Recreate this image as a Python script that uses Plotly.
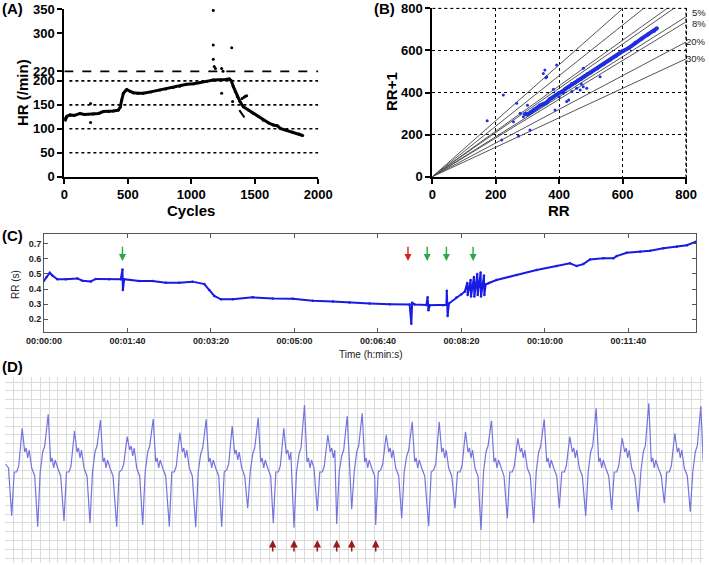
import plotly.graph_objects as go

W, H = 709, 565
FONT = "Liberation Sans"

# ---------------- Panel A data ----------------
cycles = [0, 8, 20, 45, 80, 123, 160, 228, 270, 307, 350, 386, 425, 440, 452, 465, 480, 491, 520, 543,
          580, 622, 680, 753, 800, 858, 910, 963, 1020, 1068, 1120, 1173, 1230, 1270, 1299, 1315, 1331,
          1346, 1362, 1383, 1409, 1450, 1488, 1530, 1567, 1610, 1646, 1680, 1700, 1750, 1800, 1850, 1877]
hr = [122, 118, 126, 129, 128, 132, 130, 131, 132, 136, 136, 137, 139, 145, 160, 174, 179, 182, 178, 175,
      174, 174, 177, 181, 183, 186, 189, 193, 194, 196, 199, 202, 202, 203, 204, 200, 188,
      178, 167, 157, 146, 139, 132, 125, 118, 112, 108, 106, 101, 97, 93, 89, 86]
out_cycles = [207, 207, 1173, 1173, 1173, 1190, 1239, 1239, 1318, 1325, 1180, 1250, 1400, 1415, 1425, 1436]
out_hr = [153, 113, 347, 275, 245, 226, 226, 174, 269, 157, 230, 220, 163, 166, 168, 169]
branch_cycles = [1378, 1395, 1410, 1425, 1436]
branch_hr = [139, 133, 127, 121, 117]
hr_dotted_levels = [50, 100, 150, 200]
hr_max_level = 220
hr_ticks = [0, 50, 100, 150, 200, 220, 300, 350]
cycle_ticks = [0, 500, 1000, 1500, 2000]

# ---------------- Panel B data ----------------
rr_band = [292, 300, 310, 320, 330, 340, 350, 360, 370, 380, 390, 400, 410, 420, 430, 440, 450, 460, 470,
           480, 490, 500, 520, 540, 560, 580, 600, 620, 640, 660, 680, 700, 708]
rr1_band = [298, 296, 306, 318, 325, 338, 345, 352, 368, 376, 388, 398, 405, 418, 428, 440, 446, 458, 466,
            476, 488, 495, 515, 535, 556, 575, 596, 612, 636, 656, 676, 694, 705]
rr_out = [173, 224, 266, 256, 272, 219, 308, 355, 361, 392, 382, 387, 424, 430, 476, 466, 487, 529, 476,
          287, 277, 413, 503, 350, 358, 400, 300, 440, 455, 470]
rr1_out = [266, 388, 349, 261, 193, 174, 222, 507, 475, 531, 415, 317, 357, 364, 515, 412, 420, 475, 428,
           285, 301, 396, 499, 490, 470, 380, 340, 405, 420, 440]
ref_slopes = [0.70, 0.80, 0.92, 0.95, 1.05, 1.08, 1.20, 1.33]
ref_label_text = ["5%", "8%", "20%", "30%"]
ref_label_rr1 = [780, 728, 641, 562]
rr_ticks = [0, 200, 400, 600, 800]
rr_max = 800

# ---------------- Panel C data ----------------
rr_time = [0, 3, 7, 10, 16, 26, 40, 46, 56, 62, 78, 92, 94, 94.5, 96, 114, 130, 146, 162, 178, 192, 198,
           204, 212, 226, 250, 274, 298, 322, 346, 366, 390, 414, 438, 440, 441, 444, 458, 459.5, 460.5,
           462, 478, 482, 482.5, 483.5, 485, 494, 500, 504, 507, 507.5, 509, 511, 511.5, 513, 515, 515.5,
           517, 519, 519.5, 521, 523, 523.5, 525, 527, 527.5, 529, 533, 542, 566, 590, 614, 630, 638, 646,
           654, 670, 682, 686, 698, 714, 726, 742, 758, 770, 781]
rr_sec = [0.455, 0.48, 0.508, 0.49, 0.464, 0.464, 0.47, 0.455, 0.45, 0.467, 0.464, 0.465, 0.53, 0.393,
          0.465, 0.453, 0.453, 0.442, 0.442, 0.449, 0.433, 0.394, 0.354, 0.332, 0.332, 0.345, 0.338, 0.336,
          0.323, 0.318, 0.311, 0.305, 0.300, 0.298, 0.17, 0.31, 0.298, 0.294, 0.345, 0.26, 0.293, 0.293,
          0.296, 0.389, 0.221, 0.305, 0.344, 0.365, 0.382, 0.44, 0.36, 0.40, 0.46, 0.35, 0.405, 0.48, 0.35,
          0.41, 0.50, 0.36, 0.415, 0.51, 0.35, 0.42, 0.49, 0.36, 0.43, 0.44, 0.46, 0.493, 0.526, 0.552,
          0.570, 0.552, 0.565, 0.596, 0.603, 0.603, 0.618, 0.64, 0.647, 0.654, 0.67, 0.68, 0.69, 0.713]
time_ticks = [0, 100, 200, 300, 400, 500, 600, 700]
time_labels = ["00:00:00", "00:01:40", "00:03:20", "00:05:00", "00:06:40", "00:08:20", "00:10:00", "00:11:40"]
rr_s_ticks = [0.2, 0.3, 0.4, 0.5, 0.6, 0.7]
green_arrow_t = [94, 459, 482, 514]
red_arrow_t = [436]

# ---------------- Panel D data (ECG, grid units) ----------------
trough_t = [6.7, 32.7, 59, 85, 111.7, 137.7, 164.3, 190.7, 216.7, 242.7, 268.3, 289, 312.3, 331.7, 346.7,
            370.7, 396.7, 423.7, 450, 476, 502.3, 528.7, 554.3, 580.7, 606.7, 633.3, 659.3, 685.3]
trough_amp = [-45.7, -56.7, -51, -53.3, -56.7, -55, -56.7, -57.3, -56.7, -38.3, -53.3, -57.7, -41, -54,
              -39.3, -55, -48.3, -56, -38.3, -60, -48.3, -53.3, -38.3, -46, -40, -41.7, -33.3, -41.7]
peak_amp = [41.7, 55.7, 39, 50, 33.3, 51, 37.3, 50.7, 44, 52.3, 41.7, 65, 35, 54, 56.7, 35, 48.3, 48.3,
            38.3, 49.3, 31.7, 50.7, 33.3, 61.7, 31.7, 66.7, 36.7, 64]
shoulder_amp = [4, 24, 4, 24, 6, 24, 4, 22, 6, 22, 4, 22, 4, 20, 24, 6, 20, 6, 4, 24, 4, 24, 4, 24, 4, 24, 4, 24]
notch_amp = [18, 8, 18, 8, 20, 8, 18, 8, 16, 8, 16, 8, 18, 8, 8, 18, 8, 18, 18, 8, 18, 8, 18, 8, 18, 8, 18, 8]
ecg_start_t = [0.5, 3.5]
ecg_start_amp = [6, 2]
arrow_beats_t = [267.7, 289, 312.3, 331.7, 346.7, 370.7]

# build ECG polyline from beat landmarks
ecg_t = list(ecg_start_t)
ecg_v = list(ecg_start_amp)
for i, tx in enumerate(trough_t):
    sh, nt, pk = shoulder_amp[i], notch_amp[i], peak_amp[i]
    landmarks = [(0, trough_amp[i]), (2.5, -2), (5, sh - 6), (7, sh), (10.5, pk), (13, nt),
                 (14.5, nt + 4), (16, nt - 6), (17.5, nt + 2), (20, 2), (23, -6)]
    nxt = trough_t[i + 1] if i + 1 < len(trough_t) else 1e9
    for dx, v in landmarks:
        if tx + dx < nxt - 0.8:
            ecg_t.append(tx + dx)
            ecg_v.append(v)

fig = go.Figure()

# ----- Panel A traces -----
for lv in hr_dotted_levels:
    fig.add_trace(go.Scatter(x=[40, 2000], y=[lv, lv], mode="lines", xaxis="x", yaxis="y",
                             line=dict(color="black", width=1.6, dash="dot"), hoverinfo="skip"))
fig.add_trace(go.Scatter(x=[0, 2000], y=[hr_max_level, hr_max_level], mode="lines", xaxis="x", yaxis="y",
                         line=dict(color="black", width=1.8, dash="dash"), hoverinfo="skip"))
fig.add_trace(go.Scatter(x=cycles, y=hr, mode="lines+markers", xaxis="x", yaxis="y",
                         line=dict(color="black", width=3), marker=dict(size=3, color="black")))
fig.add_trace(go.Scatter(x=branch_cycles, y=branch_hr, mode="lines", xaxis="x", yaxis="y",
                         line=dict(color="black", width=2, dash="dash")))
fig.add_trace(go.Scatter(x=out_cycles, y=out_hr, mode="markers", xaxis="x", yaxis="y",
                         marker=dict(size=3, color="black")))

# ----- Panel B traces -----
fig.add_trace(go.Scatter(x=[0, rr_max, rr_max], y=[rr_max, rr_max, 0], mode="lines", xaxis="x2", yaxis="y2",
                         line=dict(color="black", width=1.3, dash="dot"), hoverinfo="skip"))
for s in ref_slopes:
    xe = min(rr_max, rr_max / s)
    fig.add_trace(go.Scatter(x=[0, xe], y=[0, s * xe], mode="lines", xaxis="x2", yaxis="y2",
                             line=dict(color="#555555", width=1), hoverinfo="skip"))
fig.add_trace(go.Scatter(x=rr_band, y=rr1_band, mode="lines+markers", xaxis="x2", yaxis="y2",
                         line=dict(color="#1f2ee0", width=4), marker=dict(size=4, color="#1f2ee0")))
fig.add_trace(go.Scatter(x=rr_out, y=rr1_out, mode="markers", xaxis="x2", yaxis="y2",
                         marker=dict(size=3, color="#1f2ee0")))

# ----- Panel C traces -----
fig.add_trace(go.Scatter(x=rr_time, y=rr_sec, mode="lines+markers", xaxis="x3", yaxis="y3",
                         line=dict(color="#1a1ae6", width=2), marker=dict(size=2.5, color="#1a1ae6")))

# ----- Panel D traces -----
fig.add_trace(go.Scatter(x=ecg_t, y=ecg_v, mode="lines", xaxis="x4", yaxis="y4",
                         line=dict(color="#7474e0", width=1.2)))

annotations = []
# panel letters
for txt, px, py in [("(A)", 0, 8), ("(B)", 372, 8), ("(C)", 0, 236), ("(D)", 0, 366)]:
    annotations.append(dict(text=txt, x=px / W, y=1 - py / H, xref="paper", yref="paper",
                            xanchor="left", yanchor="middle", showarrow=False,
                            font=dict(family=FONT, size=15, color="black", weight="bold")))
# axis titles
title_font = dict(family=FONT, size=15, color="black", weight="bold")
annotations += [
    dict(text="Cycles", x=191 / W, y=1 - 210 / H, xref="paper", yref="paper", showarrow=False,
         xanchor="center", yanchor="middle", font=title_font),
    dict(text="HR (/min)", x=22 / W, y=1 - 93 / H, xref="paper", yref="paper", showarrow=False,
         textangle=-90, xanchor="center", yanchor="middle", font=title_font),
    dict(text="RR", x=559 / W, y=1 - 210 / H, xref="paper", yref="paper", showarrow=False,
         xanchor="center", yanchor="middle", font=title_font),
    dict(text="RR+1", x=392 / W, y=1 - 92 / H, xref="paper", yref="paper", showarrow=False,
         textangle=-90, xanchor="center", yanchor="middle", font=title_font),
    dict(text="RR (s)", x=15 / W, y=1 - 284 / H, xref="paper", yref="paper", showarrow=False,
         textangle=-90, xanchor="center", yanchor="middle",
         font=dict(family=FONT, size=10, color="#222")),
    dict(text="Time (h:min:s)", x=371 / W, y=1 - 354 / H, xref="paper", yref="paper", showarrow=False,
         xanchor="center", yanchor="middle", font=dict(family=FONT, size=10, color="#222")),
]
# percentage labels panel B (right of the plot)
for lab, yv in zip(ref_label_text, ref_label_rr1):
    annotations.append(dict(text=lab, x=707 / W, y=yv, xref="paper", yref="y2", showarrow=False,
                            xanchor="right", yanchor="middle", borderpad=0,
                            font=dict(family=FONT, size=9.5, color="#222")))
# panel C arrows
for t in green_arrow_t:
    annotations.append(dict(x=t, y=0.585, ax=t, ay=0.69, xref="x3", yref="y3", axref="x3", ayref="y3",
                            showarrow=True, arrowhead=2, arrowsize=1, arrowwidth=1.4,
                            arrowcolor="#2aa845", text=""))
for t in red_arrow_t:
    annotations.append(dict(x=t, y=0.585, ax=t, ay=0.69, xref="x3", yref="y3", axref="x3", ayref="y3",
                            showarrow=True, arrowhead=2, arrowsize=1, arrowwidth=1.4,
                            arrowcolor="#d0241c", text=""))
# panel D arrows
for t in arrow_beats_t:
    annotations.append(dict(x=t, y=-70, ax=t, ay=-83, xref="x4", yref="y4", axref="x4", ayref="y4",
                            showarrow=True, arrowhead=2, arrowsize=1, arrowwidth=1.5,
                            arrowcolor="#9c1a1a", text=""))

tickA = dict(family=FONT, size=13, color="black", weight="bold")
axA = dict(showline=True, linecolor="black", linewidth=2, ticks="outside", ticklen=5, tickwidth=2,
           tickcolor="black", zeroline=False, tickfont=tickA, automargin=False)
tickC = dict(family=FONT, size=9, color="#222", weight="bold")
axC = dict(showline=True, linecolor="#555", linewidth=1, ticks="inside", ticklen=4, tickwidth=1,
           tickcolor="#555", mirror="ticks", zeroline=False, showgrid=False, tickfont=tickC,
           automargin=False)
axD = dict(showticklabels=False, showgrid=True, gridcolor="#dcdcdc", gridwidth=1, dtick=8.8, tick0=0,
           zeroline=False, showline=False, ticks="", automargin=False)

fig.update_layout(
    width=W, height=H, margin=dict(l=0, r=0, t=0, b=0, autoexpand=False),
    paper_bgcolor="white", plot_bgcolor="white", showlegend=False,
    font=dict(family=FONT),
    xaxis=dict(domain=[64.3 / W, 318.3 / W], range=[0, 2000], tickvals=cycle_ticks, showgrid=False,
               anchor="y", **axA),
    yaxis=dict(domain=[1 - 176.7 / H, 1 - 9 / H], range=[0, 350], tickvals=hr_ticks, showgrid=False,
               anchor="x", **axA),
    xaxis2=dict(domain=[432.3 / W, 687.3 / W], range=[0, 804], tickvals=rr_ticks, anchor="y2",
                showgrid=True, gridcolor="black", gridwidth=1.3, griddash="dot", **axA),
    yaxis2=dict(domain=[1 - 176.7 / H, 1 - 7.5 / H], range=[0, 804], tickvals=rr_ticks, anchor="x2",
                showgrid=True, gridcolor="black", gridwidth=1.3, griddash="dot", **axA),
    xaxis3=dict(domain=[44 / W, 696 / W], range=[0, 781], tickvals=time_ticks, ticktext=time_labels,
                anchor="y3", **axC),
    yaxis3=dict(domain=[1 - 331.7 / H, 1 - 234 / H], range=[0.118, 0.764], tickvals=rr_s_ticks,
                ticktext=["0.2", "0.3", "0.4", "0.5", "0.6", "0.7"], anchor="x3", **axC),
    xaxis4=dict(domain=[5 / W, 703 / W], range=[0, 698], anchor="y4", **axD),
    yaxis4=dict(domain=[1 - 563 / H, 1 - 377 / H], range=[-93, 93], anchor="x4", **axD),
    annotations=annotations,
)

fig.write_html("out.html", config={"displayModeBar": False},
               post_script="document.body.style.margin='0';document.body.style.overflow='hidden';")
